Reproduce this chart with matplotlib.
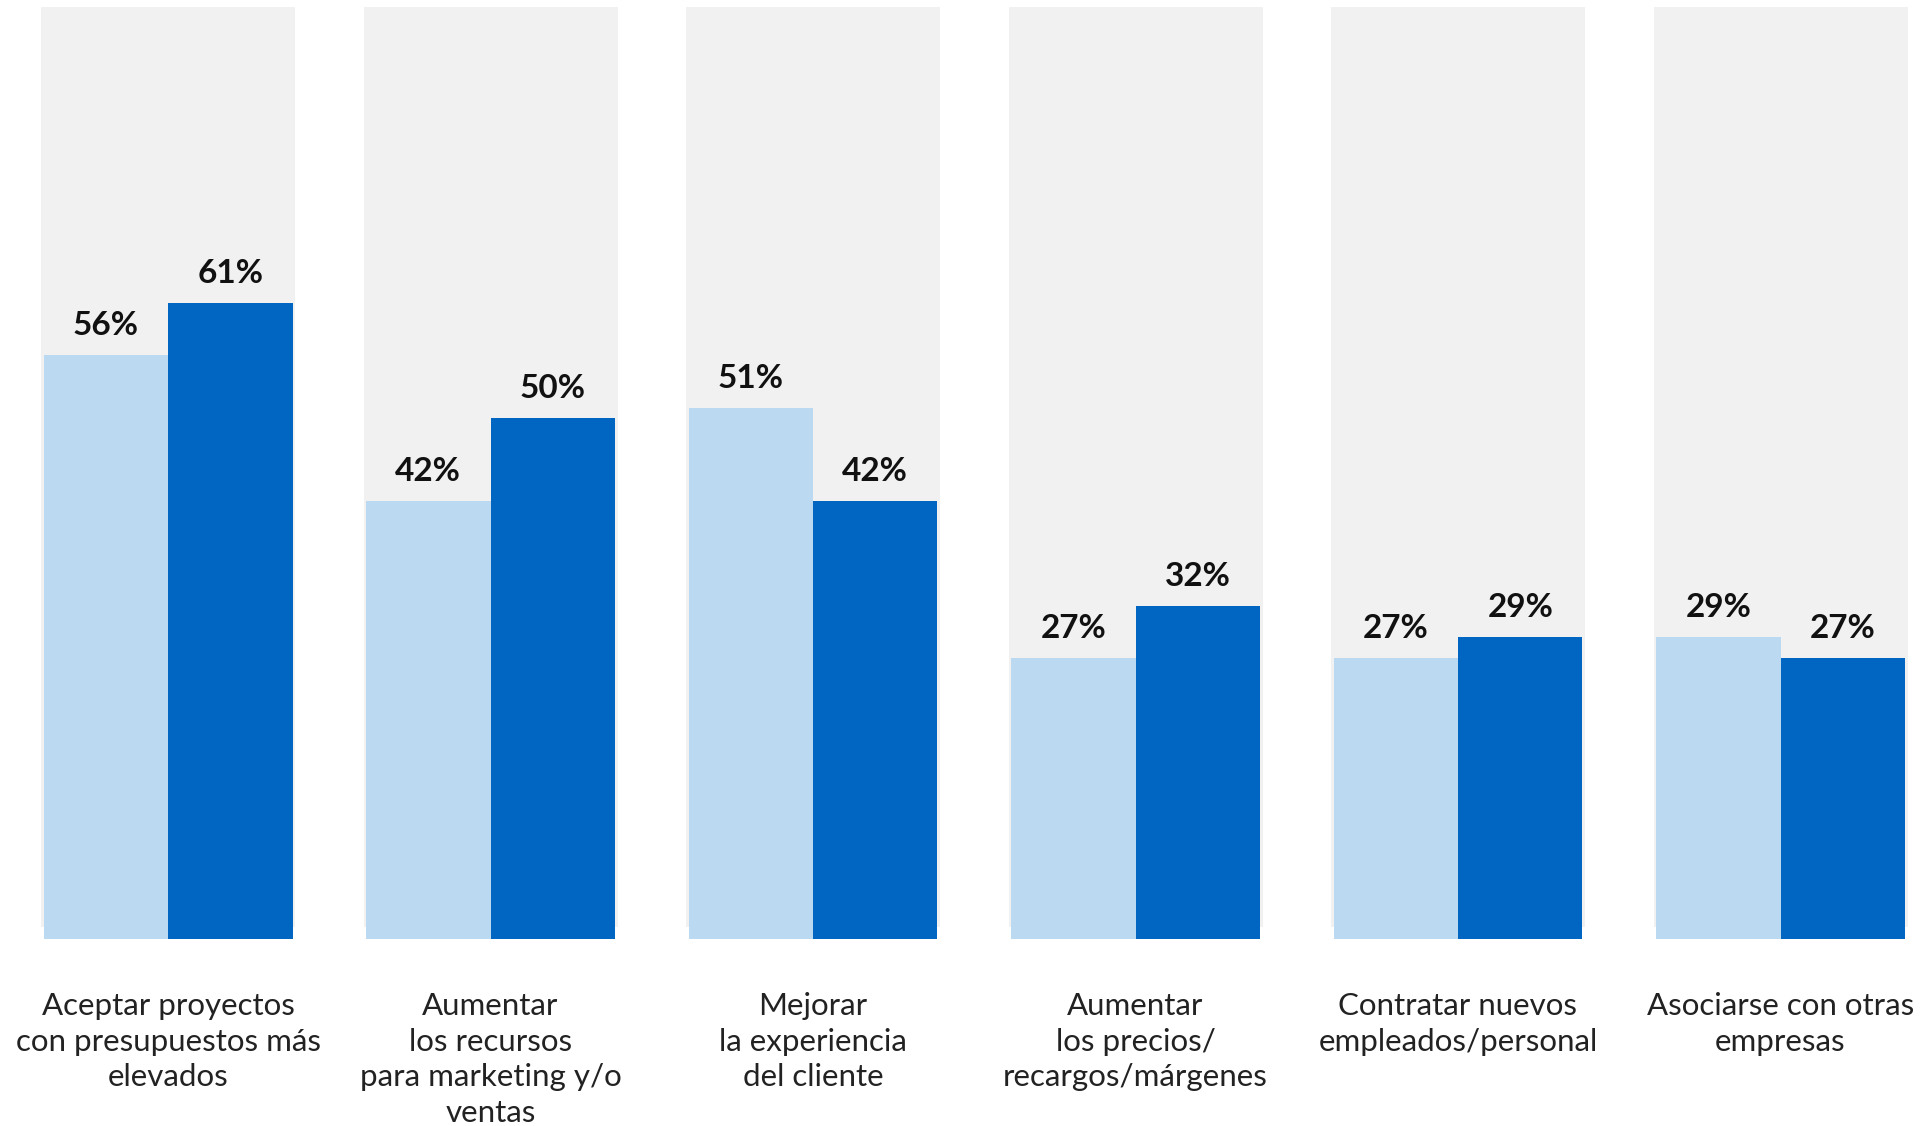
import numpy as np
import matplotlib
matplotlib.use("Agg")
from matplotlib import pyplot as plt

categorias = [
    "Aceptar proyectos\ncon presupuestos más\nelevados",
    "Aumentar\nlos recursos\npara marketing y/o\nventas",
    "Mejorar\nla experiencia\ndel cliente",
    "Aumentar\nlos precios/\nrecargos/márgenes",
    "Contratar nuevos\nempleados/personal",
    "Asociarse con otras\nempresas",
]
serie_clara = [56, 42, 51, 27, 27, 29]
serie_oscura = [61, 50, 42, 32, 29, 27]

CLARO = "#BBD9F1"
OSCURO = "#0066C2"
GRIS = "#F1F1F1"

W, H = 1923, 1126
fig = plt.figure(figsize=(W / 100, H / 100), dpi=100)
ax = fig.add_axes([0, (H - 939) / H, 1, (939 - 7) / H])

x = np.arange(len(categorias))
ancho = 124.5 / 322.5
ytop = 932 / 10.42

# fondo gris detrás de cada grupo
ax.bar(x, ytop, bottom=1.15, width=254 / 322.5, color=GRIS, zorder=0)
ax.bar(x - ancho / 2, serie_clara, width=ancho, color=CLARO, zorder=1)
ax.bar(x + ancho / 2, serie_oscura, width=ancho, color=OSCURO, zorder=1)

for xi, v in zip(x - ancho / 2, serie_clara):
    ax.annotate(f"{v}%", (xi, v), xytext=(0, 14.4), textcoords="offset points",
                ha="center", va="baseline", fontsize=24, fontweight="bold",
                family="Lato", color="#111111")
for xi, v in zip(x + ancho / 2, serie_oscura):
    ax.annotate(f"{v}%", (xi, v), xytext=(0, 14.4), textcoords="offset points",
                ha="center", va="baseline", fontsize=24, fontweight="bold",
                family="Lato", color="#111111")

for xi, c in zip(x, categorias):
    ax.annotate(c, (xi, 0), xycoords=("data", "axes fraction"),
                xytext=(0, -38), textcoords="offset points",
                ha="center", va="top", fontsize=22.5, fontweight="normal",
                family="Lato", color="#222222", linespacing=1.34,
                annotation_clip=False)

ax.set_xlim(-168 / 322.5, (W - 168) / 322.5)
ax.set_ylim(0, ytop)
ax.axis("off")

fig.savefig("out.png", dpi=100)
